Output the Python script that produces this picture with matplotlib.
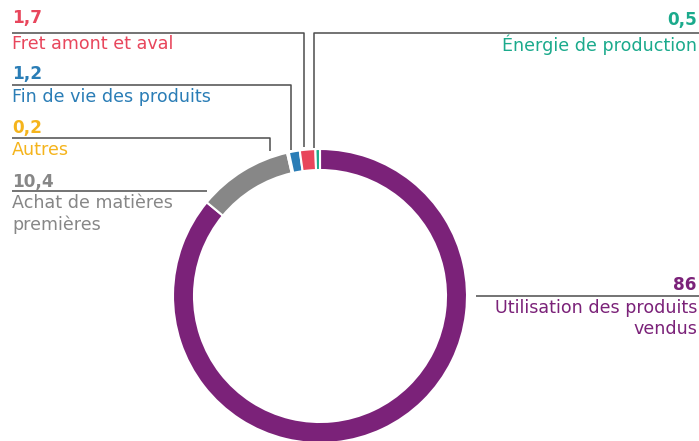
import matplotlib
matplotlib.use("Agg")
import matplotlib.pyplot as plt

categories = ["Utilisation des produits\nvendus", "Achat de matières\npremières", "Autres",
              "Fin de vie des produits", "Fret amont et aval", "Énergie de production"]
values = [86, 10.4, 0.2, 1.2, 1.7, 0.5]
value_labels = ["86", "10,4", "0,2", "1,2", "1,7", "0,5"]
colors = ["#7B2279", "#878787", "#F5B41C", "#2A7DB6", "#E8465C", "#1BAA8C"]

W, H = 699, 441
fig = plt.figure(figsize=(W / 100, H / 100), dpi=100)
ax = fig.add_axes([0, 0, 1, 1])

def Y(y):
    return H - y

cx, cy, R, width = 320, 296, 147, 21
ax.pie(values, colors=colors, startangle=90, counterclock=False,
       center=(cx, Y(cy)), radius=R, frame=True,
       wedgeprops=dict(width=width, edgecolor="white", linewidth=1.5))
ax.set_xlim(0, W)
ax.set_ylim(0, H)
ax.set_aspect("equal")
ax.axis("off")

font = "DejaVu Sans"
fs = 12.6
fsv = 12.2
lc = "#4d4d4d"
lw = 1.1

layouts = [
    (4, "left", 18, 33, 44, [(12, 33), (304, 33), (304, 147)]),
    (3, "left", 74, 85, 97, [(12, 85), (291, 85), (291, 150)]),
    (2, "left", 128, 138, 150, [(12, 138), (270, 138), (270, 151)]),
    (1, "left", 182, 191, 203, [(12, 191), (207, 191)]),
    (5, "right", 20, 33, 45, [(699, 33), (314, 33), (314, 148)]),
    (0, "right", 285, 296, 308, [(699, 296), (476, 296)]),
]
for i, side, vy, ly, tly, path in layouts:
    xs = [p[0] for p in path]
    ys = [Y(p[1]) for p in path]
    ax.plot(xs, ys, color=lc, lw=lw, solid_capstyle="butt")
    if side == "left":
        x, ha = 12, "left"
    else:
        x, ha = 697, "right"
    ax.text(x, Y(vy), value_labels[i], color=colors[i], fontsize=fsv, fontweight="bold",
            family=font, ha=ha, va="center")
    if "\n" in categories[i]:
        ax.text(x, Y(tly) + 9, categories[i], color=colors[i], fontsize=fs, family=font,
                ha=ha, va="top", linespacing=1.25, multialignment=ha)
    else:
        ax.text(x, Y(tly), categories[i], color=colors[i], fontsize=fs, family=font,
                ha=ha, va="center")

fig.savefig("out.png", dpi=100)
